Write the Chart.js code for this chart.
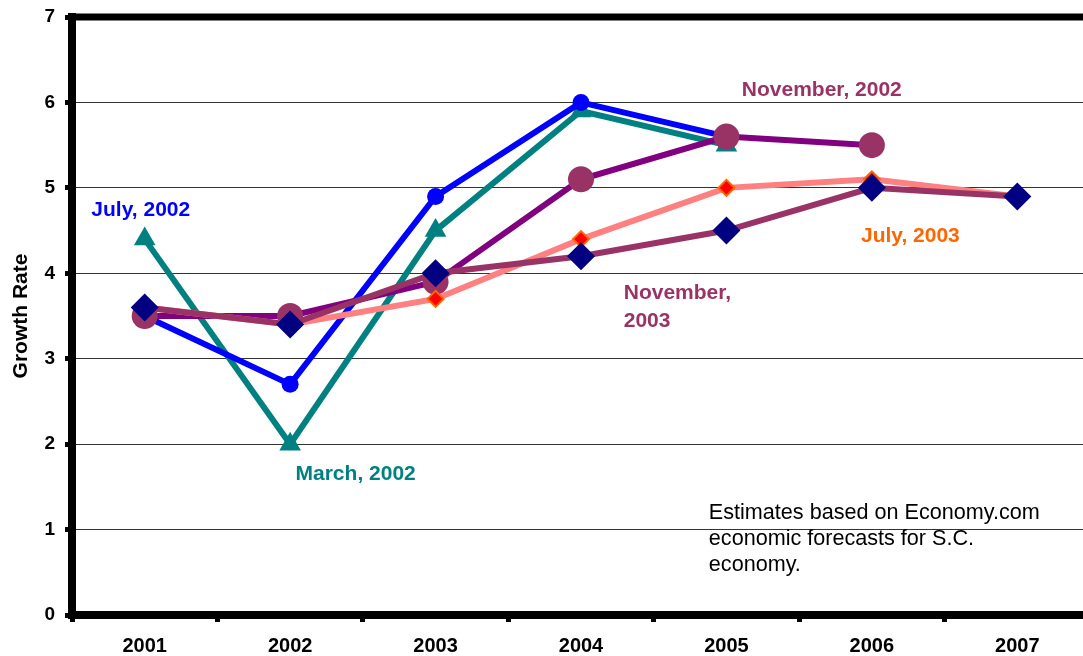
<!DOCTYPE html>
<html>
<head>
<meta charset="utf-8">
<script src="https://cdn.jsdelivr.net/npm/chart.js@4.4.1/dist/chart.umd.min.js"></script>
<style>
  html, body { margin: 0; padding: 0; background: #fff; overflow: hidden; }
  #wrap { width: 1083px; height: 656px; overflow: hidden; }
</style>
</head>
<body>
<div id="wrap"><canvas id="growth" width="1104" height="656"></canvas></div>
<script>
// ── Data ──
const years = ['2001', '2002', '2003', '2004', '2005', '2006', '2007'];
const march2002 = [4.4, 2.0, 4.5, 5.9, 5.5, null, null];
const july2002  = [3.5, 2.7, 4.9, 6.0, 5.6, null, null];
const nov2002   = [3.5, 3.5, 3.9, 5.1, 5.6, 5.5, null];
const july2003  = [3.6, 3.4, 3.7, 4.4, 5.0, 5.1, 4.9];
const nov2003   = [3.6, 3.4, 4.0, 4.2, 4.5, 5.0, 4.9];
const yTicks    = [0, 1, 2, 3, 4, 5, 6, 7];

// series labels placed in data space: [text, category index, value, colour]
const seriesLabels = [
  ['July, 2002',     -0.367, 4.74, '#0000FF'],
  ['March, 2002',     1.037, 1.65, '#008080'],
  ['November, 2002',  4.106, 6.14, '#993366'],
  ['July, 2003',      4.925, 4.43, '#FF6600'],
  ['November,',       3.294, 3.77, '#993366'],
  ['2003',            3.294, 3.44, '#993366'],
];
const noteLines = [
  'Estimates based on Economy.com',
  'economic forecasts for S.C.',
  'economy.',
];

const FONT = "'Liberation Sans', Arial, sans-serif";

// ── Plugin: top frame line + text labels ──
const decorPlugin = {
  id: 'decor',
  afterDraw(chart) {
    const { ctx, chartArea, scales } = chart;
    ctx.save();
    ctx.strokeStyle = '#000';
    ctx.lineWidth = 7;
    ctx.beginPath();
    ctx.moveTo(chartArea.left - 3, chartArea.top);
    ctx.lineTo(chart.width, chartArea.top);
    ctx.stroke();

    ctx.textBaseline = 'middle';
    ctx.textAlign = 'left';
    ctx.font = 'bold 21px ' + FONT;
    seriesLabels.forEach(([txt, xi, yv, col]) => {
      ctx.fillStyle = col;
      ctx.fillText(txt, scales.x.getPixelForValue(xi), scales.y.getPixelForValue(yv));
    });

    ctx.font = '21.6px ' + FONT;
    ctx.fillStyle = '#000';
    noteLines.forEach((txt, i) => {
      ctx.fillText(txt, scales.x.getPixelForValue(3.879), scales.y.getPixelForValue(1.19 - i * 0.3));
    });
    ctx.restore();
  }
};

function series(label, data, line, opts) {
  return Object.assign({
    label,
    data,
    borderColor: line,
    borderWidth: 6,
    tension: 0,
    pointBorderWidth: 0,
    pointHoverRadius: 0,
  }, opts);
}

// first dataset is drawn on top
new Chart(document.getElementById('growth'), {
  type: 'line',
  data: {
    labels: years,
    datasets: [
      series('November, 2003', nov2003, '#993366', {
        pointStyle: 'rectRot', pointRadius: 14, pointBackgroundColor: '#000080'
      }),
      series('July, 2003', july2003, '#FF8080', {
        pointStyle: 'rectRot', pointRadius: 8, pointBackgroundColor: '#FF0000',
        pointBorderColor: '#FF6600', pointBorderWidth: 2
      }),
      series('November, 2002', nov2002, '#800080', {
        pointStyle: 'circle', pointRadius: 13, pointBackgroundColor: '#993366'
      }),
      series('July, 2002', july2002, '#0000FF', {
        pointStyle: 'circle', pointRadius: 8.5, pointBackgroundColor: '#0000FF'
      }),
      series('March, 2002', march2002, '#008080', {
        pointStyle: 'triangle', pointRadius: 12.5, pointBackgroundColor: '#008080'
      }),
    ]
  },
  options: {
    responsive: false,
    animation: false,
    layout: { padding: { top: 17, left: 0, right: 0, bottom: 0 } },
    plugins: {
      legend: { display: false },
      tooltip: { enabled: false },
    },
    scales: {
      x: {
        offset: true,
        afterFit: s => { s.height = 41; s.paddingLeft = 0; s.paddingRight = 0; },
        border: { display: true, width: 8, color: '#000' },
        grid: {
          offset: true,
          drawOnChartArea: false,
          drawTicks: true,
          tickLength: 7,
          tickWidth: 5,
          tickColor: '#000',
        },
        ticks: {
          color: '#000',
          padding: 12,
          maxRotation: 0,
          font: { family: FONT, size: 20, weight: 'bold' },
        },
      },
      y: {
        min: 0,
        max: 7,
        afterFit: s => { s.width = 72; s.paddingTop = 0; s.paddingBottom = 0; },
        afterBuildTicks: s => { s.ticks = yTicks.map(v => ({ value: v })); },
        border: { display: true, width: 8, color: '#000' },
        grid: {
          color: '#333',
          lineWidth: 1,
          drawTicks: true,
          tickLength: 7,
          tickWidth: 5,
          tickColor: '#000',
        },
        ticks: {
          color: '#000',
          padding: 10,
          font: { family: FONT, size: 19, weight: 'bold' },
        },
        title: {
          display: true,
          text: 'Growth Rate',
          color: '#000',
          padding: { top: 9, bottom: 0 },
          font: { family: FONT, size: 21, weight: 'bold' },
        },
      },
    },
  },
  plugins: [decorPlugin],
});
</script>
</body>
</html>
